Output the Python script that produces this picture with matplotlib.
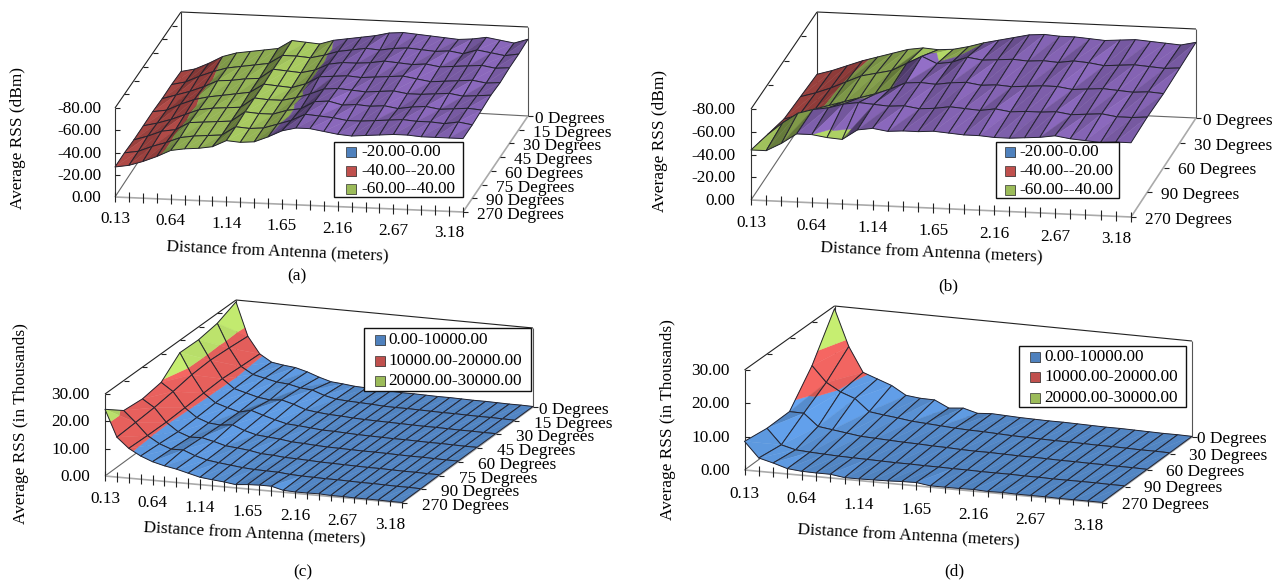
import numpy as np
import matplotlib
matplotlib.use('Agg')
import matplotlib.pyplot as plt
from matplotlib.collections import PolyCollection
from matplotlib.patches import Rectangle

plt.rcParams['font.family'] = ['Liberation Serif', 'DejaVu Serif']
FONT = 12.45

# Axis labels
DISTANCE_LABELS = ['0.13', '0.64', '1.14', '1.65', '2.16', '2.67', '3.18']
ANGLES_8 = ['0 Degrees', '15 Degrees', '30 Degrees', '45 Degrees', '60 Degrees', '75 Degrees', '90 Degrees', '270 Degrees']
ANGLES_5 = ['0 Degrees', '30 Degrees', '60 Degrees', '90 Degrees', '270 Degrees']
DBM_TICKS = ['0.00', '-20.00', '-40.00', '-60.00', '-80.00']
THOUSAND_TICKS = ['0.00', '10.00', '20.00', '30.00']
DBM_LEGEND = ['-20.00-0.00', '-40.00--20.00', '-60.00--40.00']
THOUSAND_LEGEND = ['0.00-10000.00', '10000.00-20000.00', '20000.00-30000.00']

# Values, rows run from the back (0 degrees) to the front (270)
# Average RSS in -dBm
RSS_A = [
    [24, 27, 33, 40, 44, 46, 48, 50, 58, 57, 56, 60, 62, 64, 66, 69, 70, 69, 68, 67, 66, 67, 69, 67, 65, 69],
    [25, 28, 34, 39, 43, 45, 47, 49, 57, 57, 56, 59, 63, 65, 67, 66, 68, 69, 68, 67, 68, 66, 70, 68, 66, 68],
    [25, 29, 33, 38, 44, 45, 47, 48, 57, 56, 55, 58, 64, 66, 66, 67, 69, 68, 67, 68, 66, 67, 68, 69, 67, 68],
    [26, 28, 34, 39, 42, 44, 46, 48, 56, 55, 54, 58, 65, 66, 67, 66, 67, 68, 69, 67, 65, 66, 67, 68, 66, 67],
    [26, 29, 33, 38, 43, 45, 46, 47, 56, 55, 55, 58, 62, 67, 68, 67, 66, 67, 68, 66, 66, 67, 68, 66, 67, 68],
    [26, 30, 35, 37, 44, 45, 46, 47, 56, 55, 55, 59, 61, 68, 69, 66, 67, 66, 67, 65, 67, 68, 66, 67, 68, 67],
    [27, 29, 34, 38, 43, 45, 46, 47, 55, 54, 55, 59, 63, 69, 68, 67, 65, 65, 66, 67, 68, 67, 67, 66, 68, 66],
    [27, 29, 33, 38, 44, 46, 47, 49, 55, 54, 55, 60, 66, 69, 69, 67, 65, 64, 65, 66, 67, 67, 66, 66, 66, 66],
]
RSS_B = [
    [24, 28, 33, 38, 42, 46, 50, 52, 51, 52, 55, 59, 62, 65, 68, 69, 68, 68, 67, 66, 67, 68, 67, 66, 65, 68],
    [26, 30, 35, 41, 47, 50, 53, 60, 67, 61, 63, 68, 66, 67, 68, 67, 68, 67, 69, 68, 66, 67, 68, 67, 66, 67],
    [28, 32, 37, 42, 46, 50, 54, 59, 65, 66, 65, 67, 68, 66, 67, 66, 67, 68, 68, 66, 67, 68, 67, 66, 67, 66],
    [36, 47, 56, 60, 62, 66, 68, 67, 66, 67, 65, 66, 68, 67, 66, 68, 66, 67, 67, 68, 66, 67, 68, 66, 66, 67],
    [44, 44, 51, 60, 60, 58, 57, 66, 68, 66, 67, 67, 68, 67, 66, 66, 65, 65, 66, 67, 69, 67, 66, 65, 66, 66],
]
# Average RSS in thousands
RSS_C = [
    [29.3, 16.8, 10.6, 7.9, 7.2, 6.7, 5.5, 3.9, 2.6, 2.2, 1.7, 1.5, 1.2, 1.1, 0.9, 0.9, 0.8, 0.7, 0.7, 0.6, 0.5, 0.5, 0.4, 0.3, 0.3, 0.2],
    [26.3, 17.5, 11.0, 8.4, 7.4, 6.4, 6.0, 5.0, 4.6, 3.0, 2.0, 1.7, 1.5, 1.3, 1.0, 0.9, 0.9, 0.8, 0.7, 0.6, 0.6, 0.5, 0.4, 0.4, 0.3, 0.2],
    [25.2, 18.0, 11.5, 8.2, 7.0, 5.8, 5.2, 5.6, 4.4, 2.8, 2.2, 1.8, 1.6, 1.3, 1.1, 1.0, 0.9, 0.8, 0.7, 0.6, 0.6, 0.5, 0.4, 0.4, 0.3, 0.3],
    [25.4, 17.6, 11.2, 8.0, 6.6, 5.4, 6.4, 5.0, 3.7, 2.6, 2.3, 1.9, 1.5, 1.4, 1.2, 1.0, 0.9, 0.8, 0.7, 0.7, 0.6, 0.5, 0.5, 0.4, 0.3, 0.3],
    [19.4, 16.4, 10.8, 7.6, 6.0, 5.6, 6.1, 4.4, 3.2, 2.8, 2.4, 1.8, 1.6, 1.3, 1.1, 1.0, 0.9, 0.8, 0.8, 0.7, 0.6, 0.5, 0.5, 0.4, 0.3, 0.3],
    [18.3, 15.5, 10.5, 7.4, 5.8, 6.0, 5.0, 3.8, 3.4, 2.9, 2.1, 1.9, 1.5, 1.4, 1.2, 1.0, 0.9, 0.8, 0.7, 0.6, 0.6, 0.5, 0.4, 0.4, 0.3, 0.3],
    [19.0, 15.0, 10.6, 8.0, 6.4, 6.5, 4.8, 3.6, 3.0, 2.5, 2.0, 1.7, 1.6, 1.5, 1.1, 0.9, 0.8, 0.7, 0.7, 0.6, 0.5, 0.5, 0.4, 0.3, 0.3, 0.2],
    [24.4, 14.6, 10.9, 8.5, 6.8, 5.7, 4.9, 3.8, 2.7, 2.2, 1.8, 1.2, 1.6, 1.8, 1.8, 0.7, 0.5, 0.5, 0.6, 0.4, 0.4, 0.3, 0.3, 0.3, 0.2, 0.2],
]
RSS_D = [
    [29.2, 18.0, 10.5, 8.9, 7.3, 4.7, 4.2, 4.1, 2.0, 2.4, 1.2, 1.5, 1.3, 1.1, 1.0, 0.9, 0.9, 0.8, 0.7, 0.6, 0.6, 0.5, 0.4, 0.3, 0.3, 0.2],
    [16.7, 12.0, 9.5, 7.9, 4.3, 3.7, 3.2, 2.6, 2.3, 2.0, 1.7, 1.5, 1.4, 1.2, 1.0, 0.9, 0.8, 0.7, 0.7, 0.6, 0.5, 0.5, 0.4, 0.3, 0.3, 0.2],
    [7.7, 7.6, 4.0, 3.4, 2.8, 2.2, 2.0, 1.8, 1.6, 1.5, 1.3, 1.2, 1.0, 0.9, 0.9, 0.8, 0.7, 0.7, 0.6, 0.5, 0.5, 0.4, 0.4, 0.3, 0.3, 0.2],
    [7.6, 3.0, 1.9, 1.6, 1.4, 1.2, 1.1, 1.0, 0.9, 0.8, 0.8, 0.7, 0.7, 0.6, 0.6, 0.5, 0.5, 0.5, 0.4, 0.4, 0.3, 0.3, 0.3, 0.3, 0.2, 0.2],
    [8.6, 4.0, 2.9, 1.6, 1.2, 1.1, 1.1, 0.5, 0.5, 0.6, 0.7, 0.9, 1.0, 0.4, 0.4, 0.4, 0.5, 0.3, 0.4, 0.3, 0.3, 0.3, 0.2, 0.2, 0.2, 0.2],
]

BLUE, RED, GREEN, PURPLE = '#4F81BD', '#C0504D', '#9BBB59', '#7A5CA6'
LINE = '#23232e'

# layout of each panel in pixels: floor corners, wall height at each corner, text spots
PANELS = [
    dict(rss=RSS_A, zmax=80, bands=[BLUE, RED, GREEN, PURPLE], angles=ANGLES_8, zticks=DBM_TICKS, legend=DBM_LEGEND,
         fl=(115, 197), fr=(463, 212), bl=(181, 97), br=(528, 116), h=(89, 89, 85, 89),
         zlab_x=101, ang_dx=14, ang_dx0=7, ang_dy=3, dist_dy=22,
         xtitle='Distance from Antenna (meters)', xt=(277, 252), xrot=-2.5,
         ytitle='Average RSS (dBm)', yt=(18, 138), cap='(a)', capxy=(297, 276),
         leg=(334, 142, 129, 55), leg_sw=346, leg_tx=361, leg_y=(152, 171, 189)),
    dict(rss=RSS_B, zmax=80, bands=[BLUE, RED, GREEN, PURPLE], angles=ANGLES_5, zticks=DBM_TICKS, legend=DBM_LEGEND,
         fl=(751, 200), fr=(1131, 217), bl=(817, 101), br=(1196, 118), h=(91, 90, 89, 89),
         zlab_x=735, ang_dx=14, ang_dx0=7, ang_dy=3, dist_dy=23,
         xtitle='Distance from Antenna (meters)', xt=(931, 253), xrot=-2.5,
         ytitle='Average RSS (dBm)', yt=(660, 141), cap='(b)', capxy=(948, 286),
         leg=(996, 142, 123, 56), leg_sw=1005, leg_tx=1019, leg_y=(152, 171, 190)),
    dict(rss=RSS_C, zmax=30, bands=[BLUE, RED, GREEN], angles=ANGLES_8, zticks=THOUSAND_TICKS, legend=THOUSAND_LEGEND,
         fl=(105, 476), fr=(402, 503), bl=(236, 380), br=(533, 407), h=(82, 82, 80, 79),
         zlab_x=90, ang_dx=20, ang_dx0=6, ang_dy=3, dist_dy=23,
         xtitle='Distance from Antenna (meters)', xt=(254, 534), xrot=-3,
         ytitle='Average RSS (in Thousands)', yt=(21, 424), cap='(c)', capxy=(303, 572),
         leg=(364, 328, 167, 63), leg_sw=375, leg_tx=388, leg_y=(340, 361, 381)),
    dict(rss=RSS_D, zmax=30, bands=[BLUE, RED, GREEN], angles=ANGLES_5, zticks=THOUSAND_TICKS, legend=THOUSAND_LEGEND,
         fl=(744.5, 470), fr=(1102, 503), bl=(834.5, 404), br=(1192, 437), h=(100, 100, 98, 96),
         zlab_x=730, ang_dx=19.5, ang_dx0=5, ang_dy=2, dist_dy=24,
         xtitle='Distance from Antenna (meters)', xt=(908, 536), xrot=-3,
         ytitle='Average RSS (in Thousands)', yt=(668, 420), cap='(d)', capxy=(954, 571),
         leg=(1019, 346, 167, 61), leg_sw=1030, leg_tx=1044, leg_y=(357, 377, 398)),
]


def project(p, u, v, f):
    # u along distance, v from front to back, f is the fraction of the wall height
    fl, fr, bl, br = [np.array(p[k], float) for k in ('fl', 'fr', 'bl', 'br')]
    base = (1 - v) * ((1 - u) * fl + u * fr) + v * ((1 - u) * bl + u * br)
    h = p['h']
    height = (1 - v) * ((1 - u) * h[0] + u * h[1]) + v * ((1 - u) * h[2] + u * h[3])
    return base[0], base[1] - f * height


def clip(poly, level, keep_above):
    # cut a polygon of (u, v, f) points at one height
    out = []
    for i in range(len(poly)):
        a, b = poly[i], poly[(i + 1) % len(poly)]
        ina = a[2] >= level if keep_above else a[2] <= level
        inb = b[2] >= level if keep_above else b[2] <= level
        if ina:
            out.append(a)
        if ina != inb:
            t = (level - a[2]) / (b[2] - a[2])
            out.append(tuple(a[k] + t * (b[k] - a[k]) for k in range(3)))
    return out


def shade(color, tri):
    # brightness from the slope of the facet
    a, b, c = np.array(tri)
    m = np.array([b[:2] - a[:2], c[:2] - a[:2]])
    dfdu, dfdv = np.linalg.solve(m, [b[2] - a[2], c[2] - a[2]])
    s = 1.0 - 0.17 * np.clip(dfdu, -1.0, 2.2) + 0.08 * np.clip(dfdv, -1.0, 1.0)
    rgb = np.array(matplotlib.colors.to_rgb(color)) * 1.02 * s
    return tuple(np.clip(rgb, 0, 1))


def draw_surface(ax, p):
    values = np.abs(np.array(p['rss'], float)) / p['zmax']
    nrow, ncol = values.shape
    n_band = len(p['bands'])
    verts, faces, edges, widths = [], [], [], []

    def point(r, c):
        return (c / (ncol - 1), 1 - r / (nrow - 1), values[r, c])

    for r in range(nrow - 1):
        for c in range(ncol - 1):
            A, B, C, D = point(r, c), point(r, c + 1), point(r + 1, c + 1), point(r + 1, c)
            for tri in ((A, B, D), (B, C, D)):
                for k, color in enumerate(p['bands']):
                    poly = clip(list(tri), k / n_band, True)
                    if len(poly) >= 3:
                        poly = clip(poly, (k + 1) / n_band, False)
                    if len(poly) < 3:
                        continue
                    col = shade(color, tri)
                    verts.append([project(p, *q) for q in poly])
                    faces.append(col)
                    edges.append(col)
                    widths.append(0.3)
            verts.append([project(p, *q) for q in (A, B, C, D)])
            faces.append((0, 0, 0, 0))
            edges.append(LINE)
            widths.append(0.7)
    ax.add_collection(PolyCollection(verts, facecolors=faces, edgecolors=edges, linewidths=widths, zorder=3))


def line(ax, a, b, color='k', lw=0.8, zorder=2):
    ax.plot([a[0], b[0]], [a[1], b[1]], color=color, lw=lw, zorder=zorder, solid_capstyle='butt')


def draw_frame(ax, p):
    nrow, ncol = np.array(p['rss']).shape
    FL, FR = project(p, 0, 0, 0), project(p, 1, 0, 0)
    BL, BR = project(p, 0, 1, 0), project(p, 1, 1, 0)
    FLt, BLt, BRt = project(p, 0, 0, 1), project(p, 0, 1, 1), project(p, 1, 1, 1)

    # walls
    line(ax, BLt, BRt, '#222222')
    line(ax, BLt, BL, '#333333')
    line(ax, BRt, BR, '#555555')
    line(ax, FLt, BLt, '#222222')
    line(ax, FLt, FL, '#333333')
    line(ax, BL, BR, '#666666')
    line(ax, FL, BL, '#666666')
    line(ax, FL, FR, '#aaaaaa', lw=1.2)
    line(ax, FR, BR, '#aaaaaa', lw=1.2)

    # distance ticks and labels, one label every 4 ticks
    for c in range(ncol):
        x, y = project(p, c / (ncol - 1), 0, 0)
        line(ax, (x, y - 5.5), (x, y + 4.5), '#222222')
        if c % 4 == 0 and c // 4 < len(DISTANCE_LABELS):
            ax.text(x, y + p['dist_dy'], DISTANCE_LABELS[c // 4], ha='center', va='center', fontsize=FONT)

    # angle ticks and labels
    for r, name in enumerate(p['angles']):
        v = 1 - r / (nrow - 1)
        x, y = project(p, 1, v, 0)
        line(ax, (x, y), (x + 5, y), '#222222')
        dx = p['ang_dx0'] if r == 0 else p['ang_dx']
        ax.text(x + dx, y + p['ang_dy'], name, ha='left', va='center', fontsize=FONT)
        if 0 < r < nrow - 1:
            tx, ty = project(p, 0, v, 1)
            line(ax, (tx, ty), (tx + 5, ty), '#222222')

    # height ticks and labels
    for i, name in enumerate(p['zticks']):
        f = i / (len(p['zticks']) - 1)
        x, y = project(p, 0, 0, f)
        if 0 < i:
            line(ax, (x, y), (x + 5, y), '#222222')
        ax.text(p['zlab_x'], y + 1, name, ha='right', va='center', fontsize=FONT)


def draw_texts(ax, p):
    ax.text(*p['xt'], p['xtitle'], ha='center', va='center', fontsize=FONT, rotation=p['xrot'], rotation_mode='anchor')
    ax.text(*p['yt'], p['ytitle'], ha='center', va='center', fontsize=FONT, rotation=90)
    ax.text(*p['capxy'], p['cap'], ha='center', va='center', fontsize=FONT)

    # legend box
    x, y, w, h = p['leg']
    ax.add_patch(Rectangle((x, y), w, h, facecolor='white', edgecolor='#111111', lw=1.0, zorder=5))
    for col, name, ly in zip([BLUE, RED, GREEN], p['legend'], p['leg_y']):
        ax.add_patch(Rectangle((p['leg_sw'] + 1, ly - 4), 10, 10, facecolor='#999999', edgecolor='none', zorder=6))
        ax.add_patch(Rectangle((p['leg_sw'], ly - 5), 10, 10, facecolor=col, edgecolor='#333333', lw=0.5, zorder=6))
        ax.text(p['leg_tx'], ly, name, ha='left', va='center', fontsize=FONT, zorder=6)


fig = plt.figure(figsize=(12.79, 5.83), dpi=100)
ax = fig.add_axes([0, 0, 1, 1])
ax.set_xlim(0, 1279)
ax.set_ylim(583, 0)
ax.axis('off')

for panel in PANELS:
    draw_frame(ax, panel)
    draw_surface(ax, panel)
    draw_texts(ax, panel)

fig.savefig('out.png', dpi=100)
